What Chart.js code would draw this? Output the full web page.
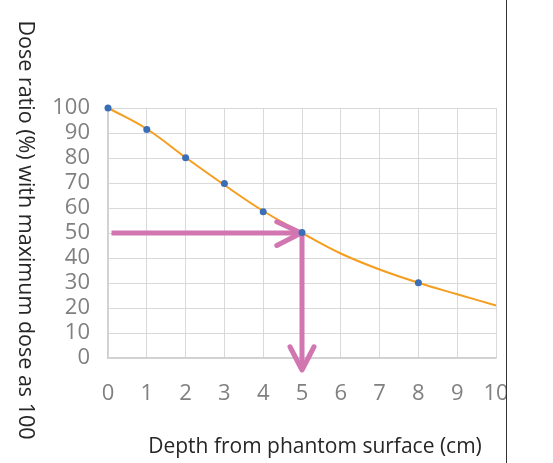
<!DOCTYPE html>
<html><head><meta charset="utf-8">
<script src="https://cdn.jsdelivr.net/npm/chart.js@4/dist/chart.umd.min.js"></script>
<style>
html,body{margin:0;padding:0;background:#fff;}
#wrap{position:absolute;left:0;top:0;width:506px;height:463px;border-right:1.5px solid #333;overflow:hidden;}
</style></head><body>
<div id="wrap"><canvas id="c" width="506" height="463"></canvas></div>
<script>
// Data
const depthPoints = [0, 1, 2, 3, 4, 5, 8];
const dosePoints = [100, 91.4, 80.1, 69.8, 58.5, 50.2, 30.1];
const curveDepth = [0, 1, 2, 3, 4, 5, 6, 7, 8, 9, 10];
const curveDose = [100, 91.6, 80.2, 69.2, 58.8, 50, 41.8, 35.4, 30.1, 25.5, 21];
const hArrowX = [0.09, 4.98];
const hArrowY = [50, 50];
const hHeadX = [4.35, 4.98, 4.35];
const hHeadY = [54.5, 50, 45];
const vArrowX = [5, 5];
const vArrowY = [50, -4.8];
const vHeadX = [4.69, 5, 5.31];
const vHeadY = [4.5, -4.8, 4.5];
const xTicks = [0,1,2,3,4,5,6,7,8,9,10];
const yTicks = [0,10,20,30,40,50,60,70,80,90,100];
const xTitle = 'Depth from phantom surface (cm)';
const yTitle = 'Dose ratio (%) with maximum dose as 100';

const zip = (xs, ys) => xs.map((x, i) => ({x, y: ys[i]}));
const PINK = '#d176b1';

const titles = {
  id: 'titles',
  afterDraw(chart) {
    const ctx = chart.ctx;
    ctx.save();
    ctx.fillStyle = '#262626';
    ctx.font = '21px "Open Sans"';
    ctx.textAlign = 'center';
    ctx.textBaseline = 'middle';
    ctx.fillText(xTitle, 315, 447);
    ctx.font = '21.5px "Open Sans"';
    ctx.translate(25, 230);
    ctx.rotate(Math.PI / 2);
    ctx.fillText(yTitle, 0, 0);
    ctx.restore();
  }
};

new Chart(document.getElementById('c'), {
  type: 'scatter',
  data: {
    datasets: [
      {data: zip(depthPoints, dosePoints), pointRadius: 3.5, pointBackgroundColor: '#3a6fb8', pointBorderWidth: 0, showLine: false, clip: false, order: 0},
      {data: zip(vHeadX, vHeadY), showLine: true, borderColor: PINK, borderWidth: 5, pointRadius: 0, borderCapStyle: 'round', borderJoinStyle: 'round', clip: false, order: 1},
      {data: zip(vArrowX, vArrowY), showLine: true, borderColor: PINK, borderWidth: 5, pointRadius: 0, borderCapStyle: 'butt', clip: false, order: 1},
      {data: zip(hHeadX, hHeadY), showLine: true, borderColor: PINK, borderWidth: 5, pointRadius: 0, borderCapStyle: 'round', borderJoinStyle: 'round', clip: false, order: 1},
      {data: zip(hArrowX, hArrowY), showLine: true, borderColor: PINK, borderWidth: 5, pointRadius: 0, borderCapStyle: 'butt', clip: false, order: 1},
      {data: zip(curveDepth, curveDose), showLine: true, borderColor: '#f59d1e', borderWidth: 2, pointRadius: 0, tension: 0.4, clip: false, order: 2}
    ]
  },
  options: {
    responsive: false,
    animation: false,
    events: [],
    layout: {padding: {top: 108, right: 10, bottom: 0, left: 0}, autoPadding: false},
    plugins: {legend: {display: false}, tooltip: {enabled: false}},
    scales: {
      x: {
        type: 'linear', min: 0, max: 10,
        afterBuildTicks: s => { s.ticks = xTicks.map(v => ({value: v})); },
        afterFit: s => { s.height = 105; s.paddingLeft = 0; s.paddingRight = 0; },
        ticks: {color: '#808080', font: {family: '"Open Sans"', size: 22}, padding: 23, maxRotation: 0, autoSkip: false},
        grid: {color: '#d9d9d9', lineWidth: 1, drawTicks: false},
        border: {color: '#d0d0d0', width: 1.5}
      },
      y: {
        type: 'linear', min: 0, max: 100,
        afterBuildTicks: s => { s.ticks = yTicks.map(v => ({value: v})); },
        afterFit: s => { s.width = 108; s.paddingTop = 0; s.paddingBottom = 0; },
        ticks: {color: '#808080', font: {family: '"Open Sans"', size: 22}, padding: 18, autoSkip: false},
        grid: {color: '#d9d9d9', lineWidth: 1, drawTicks: false},
        border: {color: '#d0d0d0', width: 1.5}
      }
    }
  },
  plugins: [titles]
});
</script>
</body></html>
